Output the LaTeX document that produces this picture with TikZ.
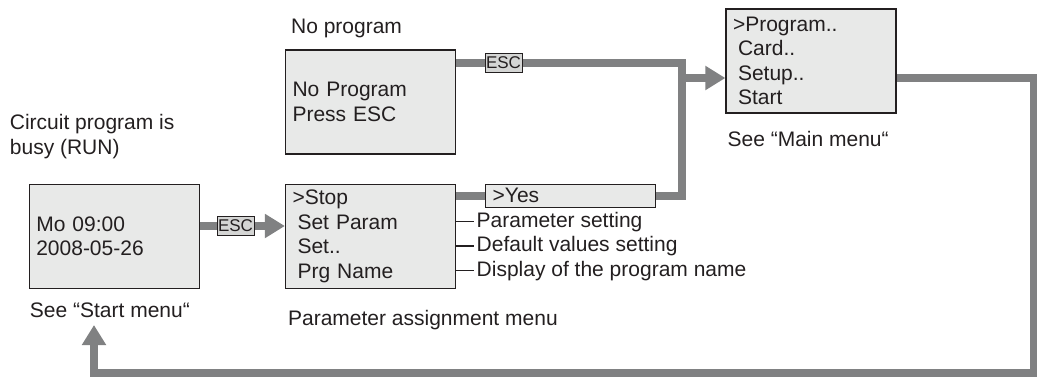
\documentclass[tikz,border=0pt]{standalone}
\usepackage{fontspec}
\setmainfont{Liberation Sans}
\usetikzlibrary{arrows.meta, positioning, backgrounds}

\definecolor{lcdgray}{RGB}{232,233,232}
\definecolor{keygray}{RGB}{212,213,212}
\definecolor{pipegray}{RGB}{128,129,130}
\definecolor{inkgray}{RGB}{35,31,32}

\newcommand{\ind}{\hspace*{5pt}}

\begin{document}
\begin{tikzpicture}[
    x=1pt, y=-1pt,
    font=\fontsize{21}{24.5}\selectfont,
    lcd/.style={rectangle, draw=inkgray, line width=1.2pt, fill=lcdgray, text=inkgray,
                minimum width=170pt, minimum height=104pt, text width=156pt,
                align=left, inner sep=0pt},
    key/.style={rectangle, draw=inkgray, line width=1pt, fill=keygray, text=inkgray,
                font=\fontsize{17}{19}\selectfont, minimum width=37pt, minimum height=19pt,
                inner sep=0.5pt},
    lbl/.style={inner sep=0pt, align=left, text=inkgray},
    note/.style={inner sep=3pt, text=inkgray},
    pipe/.style={draw=pipegray, line width=8pt},
    tip/.style={-{Triangle[length=20pt, width=23pt]}},
    tick/.style={draw=inkgray, line width=1.5pt},
]
\useasboundingbox (0,0) rectangle (1037,376);

% Displays
\node[lcd] (nopro) at (370.5,102) {No Program\\Press ESC};
\node[lcd, below=29pt of nopro] (stop) {>Stop\\\ind Set Param\\\ind Set..\\\ind Prg Name};
\node[lcd, left=85pt of stop] (start) {Mo 09:00\\2008-05-26};
\node[lcd] (main) at (811,61) {>Program..\\\ind Card..\\\ind Setup..\\\ind Start};
\node[lcd, minimum height=23pt, below right=0pt and 29pt of stop.north east] (yes) {>Yes};

% Keys
\node[key] (esc1) at (503.5,63) {ESC};
\node[key] (esc2) at (235.5,226) {ESC};

% Captions
\node[lbl, above right=11pt and 6pt of nopro.north west] (cnopro) {No program};
\node[lbl, above right=25pt and -19pt of start.north west] (crun) {Circuit program is\\busy (RUN)};
\node[lbl, below right=13.5pt and 1pt of start.south west] (cstart) {See “Start menu“};
\node[lbl, below right=21pt and 3pt of stop.south west] (cparam) {Parameter assignment menu};
\node[lbl, below right=17.5pt and 2pt of main.south west] (cmain) {See “Main menu“};

% Menu entries
\node[note, anchor=base west] (pset) at (473.5,227) {Parameter setting};
\node[note, anchor=base west] (dset) at (473.5,251.5) {Default values setting};
\node[note, anchor=base west] (pname) at (473.5,276) {Display of the program name};

\draw[tick] (stop.east |- pset.west) -- (pset.west);
\draw[tick] (stop.east |- dset.west) -- (dset.west);
\draw[tick] (stop.east |- pname.west) -- (pname.west);

% Pipes
\coordinate (jtop) at (682,63);
\coordinate (jbot) at (682,195.5);
\coordinate (jmid) at (682,78);
\coordinate (loopr) at (1033.5,78);
\coordinate (looprb) at (1033.5,372.5);
\coordinate (looplb) at (94,372.5);
\coordinate (back) at (94,325);

\begin{scope}[on background layer]
\draw[pipe] (nopro.east |- jtop) -- (jtop) -- (jbot) -- (yes.east |- jbot);
\draw[pipe] (stop.east |- jbot) -- (yes.west |- jbot);
\draw[pipe, tip] (jmid) -- (main.west |- jmid);
\draw[pipe, tip] (start.east |- esc2) -- (stop.west |- esc2);
\draw[pipe, tip] (main.east |- jmid) -- (loopr) -- (looprb) -- (looplb) -- (back);
\end{scope}

\end{tikzpicture}
\end{document}
